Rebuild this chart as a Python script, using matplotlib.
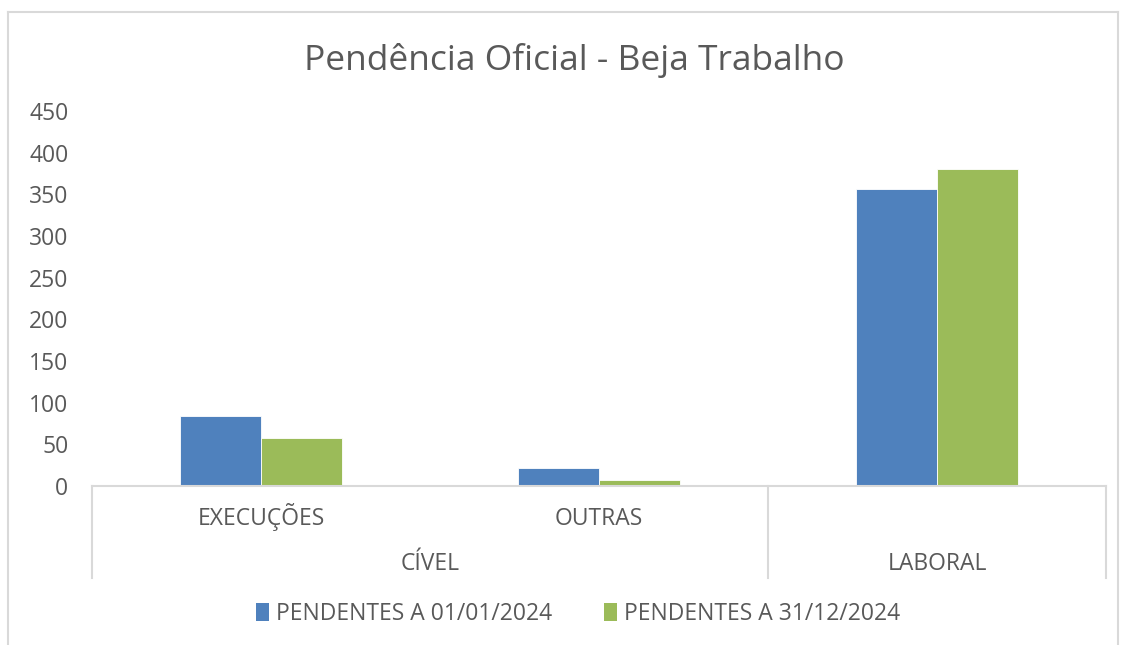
import matplotlib
matplotlib.use("Agg")
import matplotlib.pyplot as plt
from matplotlib.patches import Patch
from matplotlib.lines import Line2D
import matplotlib.transforms as mtransforms

plt.rcParams['font.family'] = ['Open Sans', 'DejaVu Sans']

title = "Pendência Oficial - Beja Trabalho"
subcategories = ["EXECUÇÕES", "OUTRAS", ""]
groups = ["CÍVEL", "LABORAL"]
group_spans = [(0, 1), (2, 2)]
series_names = ["PENDENTES A 01/01/2024", "PENDENTES A 31/12/2024"]
pend_inicio = [84, 22, 356]
pend_fim = [58, 7, 381]
yticks = [0, 50, 100, 150, 200, 250, 300, 350, 400, 450]

BLUE = "#4F81BD"
GREEN = "#9BBB59"
TXT = "#595959"
GRID = "#D9D9D9"

W, H = 1131, 645
fig = plt.figure(figsize=(W / 100, H / 100), dpi=100)
fig.patch.set_facecolor("white")

# outer chart border (left, top, right)
for (x0, y0, x1, y1) in [(8, 12, 8, 645), (8, 12, 1118, 12), (1118, 12, 1118, 645)]:
    fig.add_artist(Line2D([x0 / W, x1 / W], [1 - y0 / H, 1 - y1 / H],
                          color=GRID, lw=1.5, transform=fig.transFigure))

L, R, B, T = 92, 1106, 486, 111
ax = fig.add_axes([L / W, 1 - B / H, (R - L) / W, (B - T) / H])

x = list(range(len(pend_inicio)))
bw = 0.24
ax.bar([i - bw / 2 for i in x], pend_inicio, width=bw, color=BLUE,
       edgecolor="white", linewidth=0.6, label=series_names[0], zorder=2)
ax.bar([i + bw / 2 for i in x], pend_fim, width=bw, color=GREEN,
       edgecolor="white", linewidth=0.6, label=series_names[1], zorder=2)

ax.set_xlim(-0.5, len(x) - 0.5)
ax.set_ylim(0, 450)
ax.set_yticks(yticks)
ax.set_yticklabels([str(v) for v in yticks], fontsize=16.5, color=TXT)
ax.tick_params(axis="y", length=0, pad=17)
ax.set_xticks([])
for s in ["top", "right", "left"]:
    ax.spines[s].set_visible(False)
ax.spines["bottom"].set_color(GRID)
ax.spines["bottom"].set_linewidth(1.5)

trans = mtransforms.blended_transform_factory(ax.transData, fig.transFigure)

# sub-category labels
for i, lab in enumerate(subcategories):
    if lab:
        ax.text(i, 1 - 525 / H, lab, transform=trans, ha="center", va="baseline",
                fontsize=16.5, color=TXT)

# group labels and dividers
for g, (a, b) in zip(groups, group_spans):
    ax.text((a - 0.5 + b + 0.5) / 2, 1 - 570 / H, g, transform=trans,
            ha="center", va="baseline", fontsize=16.5, color=TXT)
dividers = [-0.5] + [b + 0.5 for (a, b) in group_spans]
for d in dividers:
    ax.add_artist(Line2D([d, d], [1 - B / H, 1 - 578 / H], color=GRID, lw=1.5,
                         transform=trans, clip_on=False))

fig.text(574 / W, 1 - 70 / H, title, ha="center", va="baseline",
         fontsize=25.5, color=TXT)

handles = [Patch(facecolor=BLUE), Patch(facecolor=GREEN)]
fig.legend(handles, series_names, loc="center", ncol=2,
           bbox_to_anchor=(578 / W, 1 - 614 / H), frameon=False,
           fontsize=16.5, labelcolor=TXT, handlelength=0.55, handleheight=0.8,
           handletextpad=0.3, columnspacing=2.3)

fig.savefig("out.png", dpi=100, facecolor="white")
